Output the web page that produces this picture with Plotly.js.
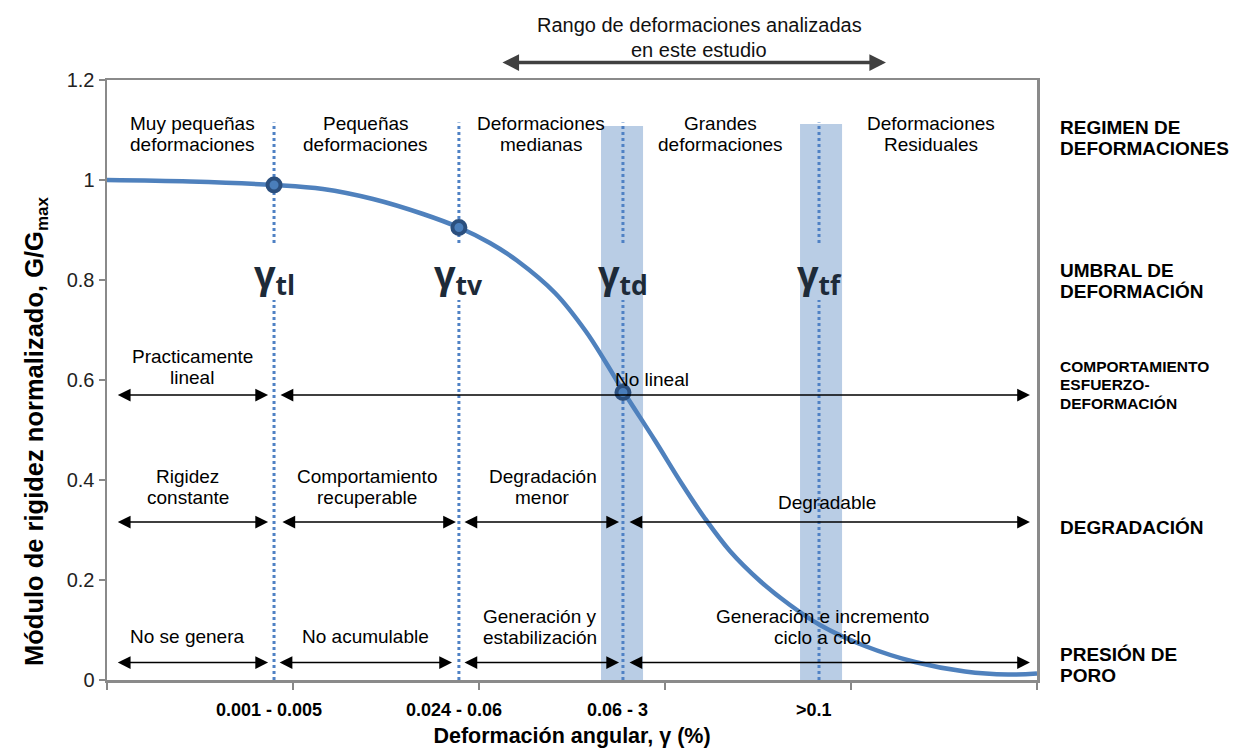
<!DOCTYPE html>
<html>
<head>
<meta charset="utf-8">
<script src="https://cdn.plot.ly/plotly-3.0.1.min.js"></script>
<style>html,body{margin:0;padding:0;background:#fff;}#chart{width:1233px;height:751px;}</style>
</head>
<body>
<div id="chart"></div>
<script>
// ---- Data (x in category units of the strain axis, y = G/Gmax) ----
const strainPos = [0, 0.446, 0.898, 1.161, 1.430, 1.699, 1.892, 2.059, 2.204, 2.409, 2.575, 2.677, 2.780, 2.946, 3.091, 3.215, 3.349, 3.511, 3.672, 3.833, 4.075, 4.344, 4.613, 4.844, 5.0];
const gRatio    = [1.000, 0.997, 0.990, 0.982, 0.962, 0.932, 0.905, 0.874, 0.839, 0.774, 0.697, 0.638, 0.575, 0.479, 0.392, 0.323, 0.258, 0.198, 0.150, 0.110, 0.068, 0.036, 0.017, 0.011, 0.013];

const thresholdNames = ['tl', 'tv', 'td', 'tf'];
const thresholdX = [0.898, 1.892, 2.774, 3.828];
const thresholdG = [0.990, 0.905, 0.575];          // marked points on the curve
const strainLabels = ['0.001 - 0.005', '0.024 - 0.06', '0.06 - 3', '>0.1'];

const bandStart = [2.656, 3.726];
const bandEnd   = [2.882, 3.952];
const bandTop   = [1.108, 1.112];

const regimeLabels = ['Muy pequeñas<br>deformaciones', 'Pequeñas<br>deformaciones', 'Deformaciones<br>medianas', 'Grandes<br>deformaciones', 'Deformaciones<br>Residuales'];
const regimeX = [0.462, 1.392, 2.333, 3.296, 4.430];

const behaviourLabels = ['Practicamente<br>lineal', 'No lineal'];
const behaviourX = [0.457, 2.930];
const behaviourSpans = [[0.05, 0.866], [0.925, 4.962]];

const degradationLabels = ['Rigidez<br>constante', 'Comportamiento<br>recuperable', 'Degradación<br>menor', 'Degradable'];
const degradationX = [0.435, 1.398, 2.344, 3.871];
const degradationSpans = [[0.05, 0.866], [0.935, 1.876], [1.914, 2.753], [2.801, 4.962]];

const porePressureLabels = ['No se genera', 'No acumulable', 'Generación y<br>estabilización', 'Generación e incremento<br>ciclo a ciclo'];
const porePressureX = [0.435, 1.392, 2.328, 3.849];
const porePressureSpans = [[0.05, 0.866], [0.920, 1.855], [1.914, 2.753], [2.801, 4.962]];

const studyRange = [2.118, 4.188];
const studyLabel = 'Rango de deformaciones analizadas<br>en este estudio';

const rowHeaders = ['REGIMEN DE<br>DEFORMACIONES', 'UMBRAL DE<br>DEFORMACIÓN', 'COMPORTAMIENTO<br>ESFUERZO-<br>DEFORMACIÓN', 'DEGRADACIÓN', 'PRESIÓN DE<br>PORO'];
const rowHeaderY = [1.085, 0.799, 0.591, 0.306, 0.030];

const yTitleMain = 'Módulo de rigidez normalizado, G/G';
const yTitleSub = 'max';
const xTitle = 'Deformación angular, γ (%)';

// ---- Build ----
const FONT = 'Liberation Sans, Arial, sans-serif';
const annotations = [];
const shapes = [];

function textBlock(x, y, text, o) {
  const lines = text.split('<br>');
  const n = lines.length;
  lines.forEach((ln, i) => {
    annotations.push({
      x: x, y: y, xref: 'x', yref: o.yref || 'y', text: ln, showarrow: false,
      xanchor: 'center', yanchor: 'middle',
      yshift: ((n - 1) / 2 - i) * o.lh,
      font: {family: FONT, size: o.size, color: o.color || '#000'}
    });
  });
}

function doubleArrow(x0, x1, y, color, w, size, yref) {
  const a = {
    x: x1, y: y, ax: x0, xref: 'x', yref: yref || 'y', axref: 'x',
    text: '', showarrow: true, arrowside: 'end+start', arrowhead: 2, startarrowhead: 2,
    arrowsize: size, startarrowsize: size, arrowwidth: w, arrowcolor: color,
    standoff: 0, startstandoff: 0
  };
  if (yref === 'paper') { a.ayref = 'pixel'; a.ay = 0; } else { a.ayref = 'y'; a.ay = y; }
  annotations.push(a);
}

function subText(main, sub, px, shift) {
  return main + '<span style="font-size:' + px + 'px;baseline-shift:' + (-shift) + 'px">' + sub + '</span>';
}

// shaded bands
bandStart.forEach((b, i) => {
  shapes.push({type: 'rect', xref: 'x', yref: 'y', x0: b, x1: bandEnd[i], y0: 0, y1: bandTop[i],
    fillcolor: '#b9cde5', line: {width: 0}, layer: 'below'});
});
// dotted threshold lines (interrupted by the gamma label)
thresholdX.forEach(x => {
  [[0.874, 1.115], [0, 0.76]].forEach(seg => {
    shapes.push({type: 'line', xref: 'x', yref: 'y', x0: x, x1: x, y0: seg[0], y1: seg[1],
      line: {color: '#4f81c4', width: 3, dash: '3px,3px'}, layer: 'below'});
  });
});

// gamma labels
thresholdNames.forEach((nm, i) => {
  annotations.push({x: thresholdX[i], y: 0.81, xref: 'x', yref: 'y', showarrow: false,
    text: '<b>' + subText('γ', nm, 26.5, 7) + '</b>',
    font: {family: 'Open Sans, DejaVu Sans, sans-serif', size: 38, color: '#1d2a38'},
    xanchor: 'center', yanchor: 'middle'});
});

// region texts
regimeLabels.forEach((t, i) => textBlock(regimeX[i], 1.092, t, {size: 19, lh: 21}));
textBlock(behaviourX[0], 0.626, behaviourLabels[0], {size: 19, lh: 21});
textBlock(behaviourX[1], 0.602, behaviourLabels[1], {size: 19, lh: 21});
behaviourSpans.forEach(s => doubleArrow(s[0], s[1], 0.57, '#000', 1.7, 1.5));
degradationLabels.forEach((t, i) => textBlock(degradationX[i], i === 3 ? 0.356 : 0.386, t, {size: 19, lh: 21}));
degradationSpans.forEach(s => doubleArrow(s[0], s[1], 0.316, '#000', 1.7, 1.5));
porePressureLabels.forEach((t, i) => textBlock(porePressureX[i], i >= 2 ? 0.107 : 0.088, t, {size: 19, lh: 21}));
porePressureSpans.forEach(s => doubleArrow(s[0], s[1], 0.035, '#000', 1.7, 1.5));

// study range arrow above the plot
doubleArrow(studyRange[0], studyRange[1], 1.029, '#404040', 3.5, 0.95, 'paper');
textBlock((studyRange[0] + studyRange[1]) / 2 + 0.03, 1.0708, studyLabel, {size: 20, lh: 25, color: '#111', yref: 'paper'});

// row headers at the right
rowHeaders.forEach((t, i) => {
  const small = i === 2;
  const lines = t.split('<br>');
  const n = lines.length, lh = small ? 18.5 : 21;
  lines.forEach((ln, k) => {
    annotations.push({x: 1, xref: 'paper', xshift: 21, y: rowHeaderY[i], yref: 'y',
      yshift: ((n - 1) / 2 - k) * lh, text: '<b>' + ln + '</b>', showarrow: false,
      xanchor: 'left', yanchor: 'middle',
      font: {family: FONT, size: small ? 15.5 : 19, color: '#000'}});
  });
});

// strain tick labels
strainLabels.forEach((t, i) => {
  annotations.push({x: thresholdX[i], xref: 'x', xshift: -5, y: 0, yref: 'paper', yshift: -30,
    text: '<b>' + t + '</b>', showarrow: false, xanchor: 'center', yanchor: 'middle',
    font: {family: FONT, size: 18, color: '#000'}});
});

// y-axis title (placed as in the reference, below the plot's vertical centre)
annotations.push({x: 0, xref: 'paper', xshift: -71, y: 0.415, yref: 'paper',
  text: '<b>' + subText(yTitleMain, yTitleSub, 17, 5) + '</b>', textangle: -90, showarrow: false,
  xanchor: 'center', yanchor: 'middle',
  font: {family: FONT, size: 25.5, color: '#000'}});

const traces = [
  {x: strainPos, y: gRatio, type: 'scatter', mode: 'lines',
   line: {color: '#4f81bd', width: 4.5, shape: 'spline', smoothing: 1}, hoverinfo: 'skip'},
  {x: thresholdX.slice(0, thresholdG.length), y: thresholdG, type: 'scatter', mode: 'markers',
   marker: {size: 13, color: '#4a7ebb', line: {color: '#2b4f7e', width: 4}}, hoverinfo: 'skip'}
];

const layout = {
  width: 1233, height: 751,
  margin: {l: 107, r: 196, t: 80, b: 71},
  paper_bgcolor: '#fff', plot_bgcolor: '#fff',
  showlegend: false,
  font: {family: FONT, color: '#000'},
  xaxis: {range: [0, 5], tickvals: [0, 1, 2, 3, 4, 5], ticks: 'outside', ticklen: 7,
    tickcolor: '#888', tickwidth: 1.5, showticklabels: false, showline: true,
    linecolor: '#8a8a8a', linewidth: 2.5, mirror: true, showgrid: false, zeroline: false,
    title: {text: '<b>' + xTitle + '</b>', font: {family: FONT, size: 21.5, color: '#000'}, standoff: 40}},
  yaxis: {range: [0, 1.2], tickvals: [0, 0.2, 0.4, 0.6, 0.8, 1, 1.2], ticks: 'outside', ticklen: 6,
    tickcolor: '#888', tickwidth: 1.5, showline: true, linecolor: '#8a8a8a', linewidth: 2.5,
    mirror: true, showgrid: false, zeroline: false, ticksuffix: '\u2002',
    tickfont: {family: FONT, size: 20, color: '#222'}},
  shapes: shapes,
  annotations: annotations
};

Plotly.newPlot('chart', traces, layout, {displayModeBar: false, staticPlot: true}).then(gd => {
  // arrow-only annotations carry an empty text node; drop those empty nodes
  gd.querySelectorAll('text.annotation-text').forEach(t => {
    if (!t.textContent.trim()) t.remove();
  });
});
</script>
</body>
</html>
